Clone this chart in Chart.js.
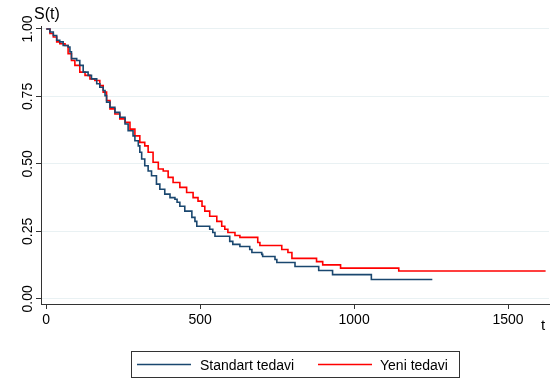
<!DOCTYPE html>
<html>
<head>
<meta charset="utf-8">
<script src="https://cdn.jsdelivr.net/npm/chart.js@4"></script>
<style>
  html, body { margin: 0; padding: 0; background: #fff; }
  #wrap { width: 558px; height: 383px; }
</style>
</head>
<body>
<div id="wrap"><canvas id="kmChart" width="558" height="383"></canvas></div>
<script>
// Kaplan-Meier survival estimates, step times and S(t)
const standartTimes = [0, 12, 23, 34, 44, 55, 71, 77, 82, 99, 109, 120, 136, 147, 164, 174, 185, 191, 196, 207,
    223, 239, 256, 266, 282, 288, 299, 304, 310, 320, 331, 342, 358, 369, 385, 402, 418, 425, 434, 450,
    473, 483, 489, 531, 541, 548, 596, 606, 629, 661, 668, 700, 703, 743, 749, 808, 885, 930, 1056, 1254];
const standartSurv = [1, 0.989, 0.976, 0.958, 0.952, 0.939, 0.933, 0.915, 0.890, 0.883, 0.865, 0.840, 0.828, 0.815, 0.797, 0.784, 0.772, 0.753, 0.729, 0.710,
    0.691, 0.673, 0.648, 0.623, 0.604, 0.586, 0.567, 0.543, 0.518, 0.493, 0.474, 0.456, 0.425, 0.406, 0.388, 0.375, 0.369, 0.358, 0.343, 0.325,
    0.302, 0.287, 0.269, 0.258, 0.246, 0.232, 0.213, 0.202, 0.194, 0.183, 0.172, 0.165, 0.157, 0.146, 0.135, 0.120, 0.105, 0.090, 0.072, 0.072];

const yeniTimes = [0, 12, 23, 34, 44, 61, 71, 82, 93, 109, 126, 142, 158, 174, 185, 196, 207, 223, 239, 256,
    272, 288, 304, 320, 331, 347, 364, 380, 396, 412, 434, 456, 477, 493, 506, 515, 531, 554, 570, 580,
    590, 613, 629, 687, 694, 765, 785, 798, 878, 898, 956, 1145, 1622];
const yeniSurv = [1, 0.983, 0.970, 0.952, 0.945, 0.939, 0.908, 0.883, 0.865, 0.840, 0.828, 0.815, 0.809, 0.790, 0.766, 0.735, 0.704, 0.685, 0.667, 0.654,
    0.629, 0.604, 0.580, 0.567, 0.543, 0.506, 0.481, 0.474, 0.450, 0.431, 0.413, 0.394, 0.375, 0.362, 0.343, 0.325, 0.306, 0.287, 0.269, 0.258,
    0.246, 0.235, 0.228, 0.209, 0.198, 0.183, 0.172, 0.150, 0.138, 0.126, 0.114, 0.103, 0.103];

const seriesLabels = ['Standart tedavi', 'Yeni tedavi'];
const xTicks = [0, 500, 1000, 1500];
const yTicks = [0, 0.25, 0.5, 0.75, 1];
const yTickLabels = ['0.00', '0.25', '0.50', '0.75', '1.00'];

const FONT = '"Liberation Sans", Arial, sans-serif';
const NAVY = '#1a476f';
const RED = '#ff0000';

function toPoints(times, surv) {
    return times.map((t, i) => ({ x: t, y: surv[i] }));
}

// Rotated y labels, axis titles and boxed legend
const stataDecor = {
    id: 'stataDecor',
    afterDraw(chart) {
        const ctx = chart.ctx;
        const yScale = chart.scales.y;
        ctx.save();
        ctx.fillStyle = '#000';

        // y tick labels, reading bottom to top
        ctx.font = '14px ' + FONT;
        ctx.textAlign = 'center';
        ctx.textBaseline = 'alphabetic';
        yTicks.forEach((v, i) => {
            const py = yScale.getPixelForValue(v);
            ctx.save();
            ctx.translate(32, py);
            ctx.rotate(-Math.PI / 2);
            ctx.fillText(yTickLabels[i], 0, 0);
            ctx.restore();
        });

        ctx.textAlign = 'left';
        ctx.font = '16px ' + FONT;
        ctx.fillText('S(t)', 34, 19);
        ctx.font = '15px ' + FONT;
        ctx.fillText('t', 541, 330);

        // legend
        const lx = 131.5, ly = 351.5, lw = 328, lh = 26;
        ctx.strokeStyle = '#333';
        ctx.lineWidth = 1;
        ctx.strokeRect(lx, ly, lw, lh);
        const items = [
            { label: seriesLabels[0], color: NAVY, x0: 137, x1: 191, tx: 200 },
            { label: seriesLabels[1], color: RED, x0: 318, x1: 372, tx: 380 }
        ];
        ctx.font = '14px ' + FONT;
        items.forEach(it => {
            ctx.strokeStyle = it.color;
            ctx.lineWidth = 1.5;
            ctx.beginPath();
            ctx.moveTo(it.x0, 364.5);
            ctx.lineTo(it.x1, 364.5);
            ctx.stroke();
            ctx.fillText(it.label, it.tx, 369.5);
        });
        ctx.restore();
    }
};

new Chart(document.getElementById('kmChart'), {
    type: 'line',
    data: {
        datasets: [
            {
                label: seriesLabels[0],
                data: toPoints(standartTimes, standartSurv),
                borderColor: NAVY,
                borderWidth: 1.6,
                stepped: 'before',
                pointRadius: 0,
                fill: false
            },
            {
                label: seriesLabels[1],
                data: toPoints(yeniTimes, yeniSurv),
                borderColor: RED,
                borderWidth: 1.6,
                stepped: 'before',
                pointRadius: 0,
                fill: false
            }
        ]
    },
    options: {
        responsive: false,
        animation: false,
        layout: { padding: { top: 26, right: 9, left: 0, bottom: 0 } },
        plugins: {
            legend: { display: false },
            tooltip: { enabled: false }
        },
        scales: {
            x: {
                type: 'linear',
                min: -17,
                max: 1633,
                afterBuildTicks: scale => { scale.ticks = xTicks.map(v => ({ value: v })); },
                afterFit: scale => { scale.height = 79; },
                grid: { drawOnChartArea: false, drawTicks: true, tickLength: 5, tickColor: '#333' },
                border: { display: true, color: '#333', width: 1 },
                ticks: {
                    color: '#000',
                    padding: 3,
                    maxRotation: 0,
                    font: { family: FONT, size: 14 },
                    callback: v => String(v)
                }
            },
            y: {
                type: 'linear',
                min: -0.019,
                max: 1.011,
                afterBuildTicks: scale => { scale.ticks = yTicks.map(v => ({ value: v })); },
                afterFit: scale => { scale.width = 41; },
                grid: { color: '#e9f1f3', lineWidth: 1, drawTicks: true, tickLength: 5, tickColor: '#333' },
                border: { display: true, color: '#333', width: 1 },
                ticks: { display: false }
            }
        }
    },
    plugins: [stataDecor]
});
</script>
</body>
</html>
